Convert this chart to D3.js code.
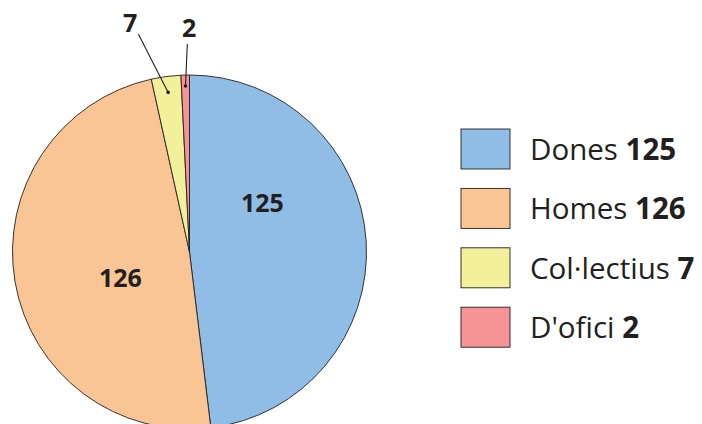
<!DOCTYPE html>
<html>
<head>
<meta charset="utf-8">
<script src="https://cdn.jsdelivr.net/npm/d3@7"></script>
<style>
  body { margin: 0; background: #fff; }
  text { font-family: "Open Sans", "Noto Sans", sans-serif; fill: #231f20; }
</style>
</head>
<body>
<div id="chart"></div>
<script>
//////////////////////////////// Data ////////////////////////////////
var categories = ["Dones", "Homes", "Col\u00b7lectius", "D'ofici"];
var values = [125, 126, 7, 2];
var colors = ["#8fbde6", "#f9c595", "#f2f09b", "#f69397"];

//////////////////////////////// Layout //////////////////////////////
var width = 702, height = 424;
var cx = 189.5, cy = 252, radius = 177;

// inside labels: angle (deg, clockwise from top) and distance from centre
var insideLabel = [{a: 56, r: 88}, {a: 249, r: 74}];
// outside labels with leader line: dot radius, text position (polar)
var outsideLabel = [
  null, null,
  {dotR: 161, textA: -14.6, textR: 236, lineA: -13.2, lineR: 224},
  {dotR: 166, textA: -0.1, textR: 224, lineA: -0.6, lineR: 208}
];

var svg = d3.select("#chart").append("svg")
  .attr("width", width)
  .attr("height", height);

var g = svg.append("g").attr("transform", "translate(" + cx + "," + cy + ")");

var pie = d3.pie().sort(null).value(function(d) { return d; });
var arcs = pie(values);

var arc = d3.arc().innerRadius(0).outerRadius(radius);

g.selectAll("path.slice")
  .data(arcs)
  .enter().append("path")
  .attr("class", "slice")
  .attr("d", arc)
  .attr("fill", function(d, i) { return colors[i]; })
  .attr("stroke", "#231f20")
  .attr("stroke-width", 0.9)
  .attr("stroke-linejoin", "round");

function polar(aDeg, r) {
  var a = aDeg * Math.PI / 180;
  return [r * Math.sin(a), -r * Math.cos(a)];
}

// inside labels
insideLabel.forEach(function(l, i) {
  var p = polar(l.a, l.r);
  g.append("text")
    .attr("x", p[0]).attr("y", p[1])
    .attr("text-anchor", "middle")
    .attr("dy", "0.35em")
    .attr("font-size", 25)
    .attr("font-weight", "bold")
    .text(values[i]);
});

// outside labels with leader lines
arcs.forEach(function(d, i) {
  var l = outsideLabel[i];
  if (!l) return;
  var mid = (d.startAngle + d.endAngle) / 2 * 180 / Math.PI;
  var dot = polar(mid, l.dotR);
  var ls = polar(l.lineA, l.lineR);
  var tp = polar(l.textA, l.textR);
  g.append("line")
    .attr("x1", ls[0]).attr("y1", ls[1])
    .attr("x2", dot[0]).attr("y2", dot[1])
    .attr("stroke", "#231f20")
    .attr("stroke-width", 1.1);
  g.append("circle")
    .attr("cx", dot[0]).attr("cy", dot[1])
    .attr("r", 1.8)
    .attr("fill", "#231f20");
  g.append("text")
    .attr("x", tp[0]).attr("y", tp[1])
    .attr("text-anchor", "middle")
    .attr("dy", "0.35em")
    .attr("font-size", 25)
    .attr("font-weight", "bold")
    .text(values[i]);
});

//////////////////////////////// Legend //////////////////////////////
var legend = svg.append("g").attr("transform", "translate(461,129)");
var item = legend.selectAll("g.item")
  .data(categories)
  .enter().append("g")
  .attr("class", "item")
  .attr("transform", function(d, i) { return "translate(0," + (i * 59.4) + ")"; });

item.append("rect")
  .attr("width", 49)
  .attr("height", 40)
  .attr("fill", function(d, i) { return colors[i]; })
  .attr("stroke", "#231f20")
  .attr("stroke-width", 0.9);

var t = item.append("text")
  .attr("x", 69)
  .attr("y", 31)
  .attr("font-size", 29.5);
t.append("tspan").text(function(d) { return d + " "; });
t.append("tspan").attr("font-weight", "bold").text(function(d, i) { return values[i]; });
</script>
</body>
</html>
